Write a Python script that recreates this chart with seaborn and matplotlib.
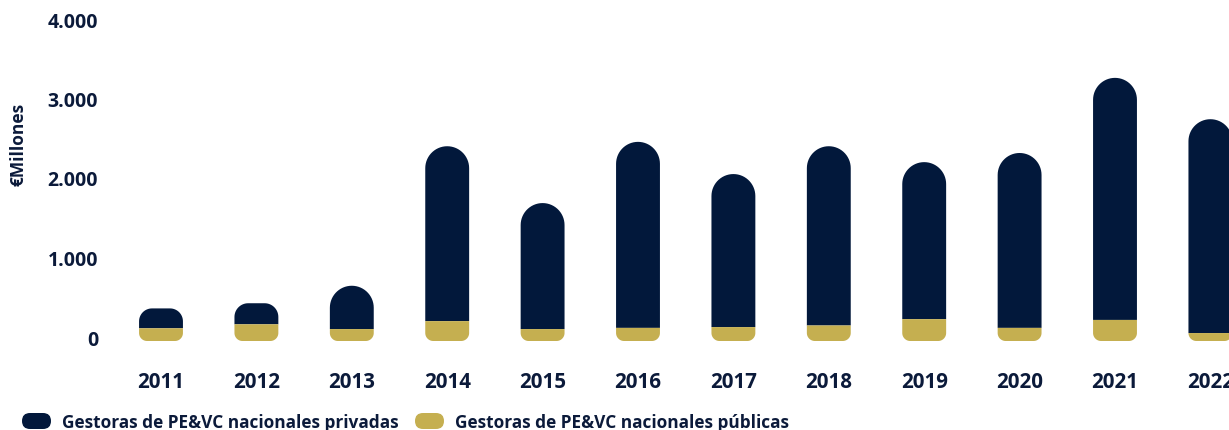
import numpy as np
import pandas as pd
import matplotlib
matplotlib.use("Agg")
import matplotlib.pyplot as plt
import matplotlib.transforms as mtransforms
import seaborn as sns
from matplotlib.path import Path
from matplotlib.patches import PathPatch, FancyBboxPatch
from matplotlib.ticker import FuncFormatter

# Capital raised by Spanish PE&VC managers (€ millions)
years = ["2011", "2012", "2013", "2014", "2015", "2016",
         "2017", "2018", "2019", "2020", "2021", "2022"]
publicas = [160, 210, 150, 250, 150, 165, 175, 195, 275, 165, 265, 100]
privadas = [250, 265, 545, 2200, 1585, 2340, 1925, 2255, 1975, 2200, 3045, 2690]
yticks = [0, 1000, 2000, 3000, 4000]
series_labels = ["Gestoras de PE&VC nacionales privadas",
                 "Gestoras de PE&VC nacionales públicas"]
y_title = "€Millones"

NAVY = "#02183B"
GOLD = "#C5AF50"
TEXT = "#0B1A3A"
WEIGHT = "bold"

sns.set_theme(style="white")
plt.rcParams["font.family"] = ["Open Sans", "DejaVu Sans"]

W, H, DPI = 1229, 430, 100
fig = plt.figure(figsize=(W / DPI, H / DPI), dpi=DPI)
fig.patch.set_facecolor("white")

# plot area in pixels (the last bar runs past the right edge)
ax_left, ax_bottom_px, ax_top_px = 113.3, 341.0, 23.0
ax_width = 12 * 95.4
ax = fig.add_axes([ax_left / W, (H - ax_bottom_px) / H,
                   ax_width / W, (ax_bottom_px - ax_top_px) / H])

df = pd.DataFrame({"year": years, "publicas": publicas, "privadas": privadas})
df["total"] = df["publicas"] + df["privadas"]

BAR_W = 0.46
sns.barplot(data=df, x="year", y="total", color=NAVY, width=BAR_W,
            saturation=1, errorbar=None, ax=ax)
sns.barplot(data=df, x="year", y="publicas", color=GOLD, width=BAR_W,
            saturation=1, errorbar=None, ax=ax)

ax.set_xlim(-0.5, 11.5)
ax.set_ylim(0, 4000)
fig.canvas.draw()

# pixels per data unit on each axis
p0 = ax.transData.transform((0, 0))
sx = ax.transData.transform((1, 0))[0] - p0[0]
sy = ax.transData.transform((0, 1))[1] - p0[1]


def rounded_bar(x0, x1, y0, y1, r_top, r_bot):
    """Closed path of a bar whose top and bottom corners have pixel radii."""
    rtx, rty = r_top / sx, r_top / sy
    rbx, rby = r_bot / sx, r_bot / sy
    pts = []
    for a in np.linspace(np.pi, 1.5 * np.pi, 16):
        pts.append((x0 + rbx + rbx * np.cos(a), y0 + rby + rby * np.sin(a)))
    for a in np.linspace(1.5 * np.pi, 2 * np.pi, 16):
        pts.append((x1 - rbx + rbx * np.cos(a), y0 + rby + rby * np.sin(a)))
    for a in np.linspace(0, 0.5 * np.pi, 16):
        pts.append((x1 - rtx + rtx * np.cos(a), y1 - rty + rty * np.sin(a)))
    for a in np.linspace(0.5 * np.pi, np.pi, 16):
        pts.append((x0 + rtx + rtx * np.cos(a), y1 - rty + rty * np.sin(a)))
    pts.append(pts[0])
    codes = [Path.MOVETO] + [Path.LINETO] * (len(pts) - 2) + [Path.CLOSEPOLY]
    return Path(pts, codes)


bars = list(ax.patches)
navy_bars, gold_bars = bars[:len(years)], bars[len(years):]
half_w_px = BAR_W * sx / 2
for i, (nb, gb) in enumerate(zip(navy_bars, gold_bars)):
    x0 = nb.get_x()
    x1 = x0 + nb.get_width()
    pub = publicas[i]
    tot = pub + privadas[i]
    nb.remove()
    gb.remove()
    navy_h = privadas[i] * sy
    gold_h = pub * sy
    ax.add_patch(PathPatch(rounded_bar(x0, x1, pub, tot,
                                       min(half_w_px, 0.65 * navy_h), 0),
                           facecolor=NAVY, edgecolor="none",
                           clip_on=False, zorder=2))
    ax.add_patch(PathPatch(rounded_bar(x0, x1, 0, pub, 0, min(8, gold_h)),
                           facecolor=GOLD, edgecolor="none",
                           clip_on=False, zorder=3))

ax.set_yticks(yticks)
ax.yaxis.set_major_formatter(FuncFormatter(lambda v, _: f"{int(v):,}".replace(",", ".")))
ax.tick_params(axis="y", length=0, pad=11, labelsize=14, labelcolor=TEXT)
ax.tick_params(axis="x", length=0, pad=22, labelsize=14.8, labelcolor=TEXT)
lift = mtransforms.ScaledTranslation(0, 3 / DPI, fig.dpi_scale_trans)
for lab in ax.get_yticklabels():
    lab.set_fontweight(WEIGHT)
    lab.set_transform(lab.get_transform() + lift)
for lab in ax.get_xticklabels():
    lab.set_fontweight(WEIGHT)
ax.set_xlabel("")
ax.set_ylabel("")
ax.grid(False)
sns.despine(ax=ax, left=True, bottom=True)
ax.set_facecolor("none")

# overlay in pixel coordinates for axis title and legend
lax = fig.add_axes([0, 0, 1, 1], zorder=-1)
lax.set_xlim(0, W)
lax.set_ylim(H, 0)
lax.axis("off")

lax.text(18, 144, y_title, rotation=90, ha="center", va="center",
         fontsize=12.5, fontweight=WEIGHT, color=TEXT)

legend_items = [(22, 62, NAVY), (415, 455, GOLD)]
for (px, tx, col), label in zip(legend_items, series_labels):
    lax.add_patch(FancyBboxPatch((px, 413), 29, 16,
                                 boxstyle="round,pad=0,rounding_size=8",
                                 facecolor=col, edgecolor="none"))
    lax.text(tx, 427.5, label, ha="left", va="baseline", fontsize=12.4,
             fontweight=WEIGHT, color=TEXT)

fig.savefig("out.png", dpi=DPI, facecolor="white")
